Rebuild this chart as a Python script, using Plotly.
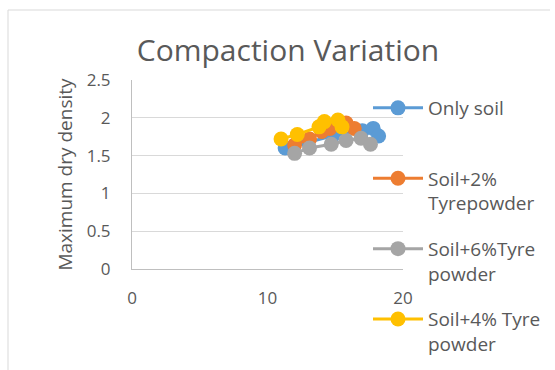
import plotly.graph_objects as go

series_names = ["Only soil", "Soil+2%<br>Tyrepowder", "Soil+6%Tyre<br>powder", "Soil+4% Tyre<br>powder"]
colors = ["#5B9BD5", "#ED7D31", "#A5A5A5", "#FFC000"]

x_only = [11.3, 13.0, 14.8, 17.0, 17.8, 18.2]
y_only = [1.60, 1.68, 1.76, 1.83, 1.86, 1.76]
x_2 = [12.0, 13.1, 14.0, 14.6, 15.8, 16.4]
y_2 = [1.64, 1.72, 1.82, 1.86, 1.93, 1.86]
x_6 = [12.0, 13.1, 14.7, 15.8, 16.9, 17.6]
y_6 = [1.53, 1.60, 1.65, 1.70, 1.73, 1.65]
x_4 = [11.0, 12.2, 13.8, 14.2, 15.2, 15.5]
y_4 = [1.72, 1.78, 1.88, 1.95, 1.97, 1.88]

xs = [x_only, x_2, x_6, x_4]
ys = [y_only, y_2, y_6, y_4]

font_family = "Open Sans, Liberation Sans, sans-serif"
txt = "#595959"

W, H = 555, 370
L, R, T, B = 132, 152, 80, 101
pw, ph = W - L - R, H - T - B

fig = go.Figure()
for i, (name, c, xv, yv) in enumerate(zip(series_names, colors, xs, ys)):
    label = name if "<br>" in name else name + "<br> "
    fig.add_trace(go.Scatter(
        x=xv, y=yv, name=label, mode="lines+markers",
        line=dict(color=c, width=3),
        marker=dict(color=c, size=15),
        legendgroup=f"g{i}",
    ))

def px_x(p):
    return (p - L) / pw

def px_y(p):
    return (H - B - p) / ph

fig.update_layout(
    width=W, height=H,
    margin=dict(l=L, r=R, t=T, b=B, autoexpand=False),
    paper_bgcolor="white", plot_bgcolor="white",
    font=dict(family=font_family, color=txt, size=17),
    title=dict(text="Compaction Variation", x=288 / W, xanchor="center", xref="container",
               y=1 - 50 / H, yanchor="middle", yref="container",
               font=dict(size=30, color=txt)),
    showlegend=True,
    legend=dict(x=368 / W, xanchor="left", xref="container", y=1 - 89 / H, yanchor="top", yref="container",
                valign="top", tracegroupgap=18, font=dict(size=19, color=txt),
                itemwidth=50, bgcolor="rgba(0,0,0,0)", maxheight=400),
    xaxis=dict(range=[0, 20], tickvals=[0, 10, 20], showgrid=False, zeroline=False,
               showline=True, linecolor="#BFBFBF", linewidth=1, ticks="", automargin=False,
               ticklabelstandoff=14, tickfont=dict(size=17, color=txt)),
    yaxis=dict(range=[0, 2.5], tickvals=[0, 0.5, 1, 1.5, 2, 2.5], ticktext=["0", "0.5", "1", "1.5", "2", "2.5"],
               showgrid=True, gridcolor="#D9D9D9", gridwidth=1, zeroline=False,
               showline=True, linecolor="#BFBFBF", linewidth=1, ticks="", automargin=False,
               ticklabelstandoff=17, tickfont=dict(size=17, color=txt),
               title=dict(text="Maximum dry density", font=dict(size=19, color=txt), standoff=9)),
    shapes=[
        dict(type="line", xref="paper", yref="paper", x0=px_x(8), x1=px_x(550), y0=px_y(10), y1=px_y(10),
             line=dict(color="#D9D9D9", width=1)),
        dict(type="line", xref="paper", yref="paper", x0=px_x(8), x1=px_x(8), y0=px_y(10), y1=px_y(372),
             line=dict(color="#D9D9D9", width=1)),
    ],
)

fig.write_html("out.html", config={"displayModeBar": False},
               post_script="document.body.style.margin='0';document.body.style.overflow='hidden';")
